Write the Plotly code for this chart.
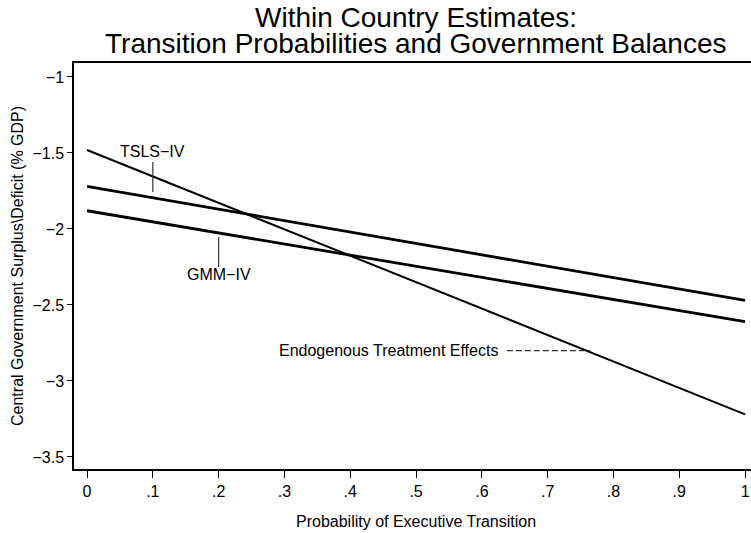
import plotly.graph_objects as go

# Data
x_prob = [0, 1]
tsls_iv = [-1.72, -2.47]
gmm_iv = [-1.88, -2.61]
endog_te = [-1.48, -3.22]

x_tickvals = [0, 0.1, 0.2, 0.3, 0.4, 0.5, 0.6, 0.7, 0.8, 0.9, 1]
x_ticktext = ["0", ".1", ".2", ".3", ".4", ".5", ".6", ".7", ".8", ".9", "1"]
y_tickvals = [-1, -1.5, -2, -2.5, -3, -3.5]
y_ticktext = ["\u22121", "\u22121.5", "\u22122", "\u22122.5", "\u22123", "\u22123.5"]

FONT = "Liberation Sans, Arial, Helvetica, sans-serif"

fig = go.Figure()
fig.add_trace(go.Scatter(x=x_prob, y=tsls_iv, mode="lines", name="TSLS-IV",
                         line=dict(color="black", width=2.8)))
fig.add_trace(go.Scatter(x=x_prob, y=gmm_iv, mode="lines", name="GMM-IV",
                         line=dict(color="black", width=2.8)))
fig.add_trace(go.Scatter(x=x_prob, y=endog_te, mode="lines", name="Endogenous Treatment Effects",
                         line=dict(color="black", width=2.0)))

# pointer lines
fig.add_shape(type="line", x0=0.1, x1=0.1, y0=-1.56, y1=-1.757, xref="x", yref="y",
              line=dict(color="#333333", width=1.2))
fig.add_shape(type="line", x0=0.2, x1=0.2, y0=-2.053, y1=-2.25, xref="x", yref="y",
              line=dict(color="#333333", width=1.2))
fig.add_shape(type="line", x0=0.638, x1=0.764, y0=-2.80, y1=-2.80, xref="x", yref="y",
              line=dict(color="#333333", width=1.2, dash="6px,3px"))

fig.add_annotation(x=0.1, y=-1.493, text="TSLS\u2212IV", showarrow=False,
                   xanchor="center", yanchor="middle", font=dict(size=16, color="black", family=FONT))
fig.add_annotation(x=0.2, y=-2.30, text="GMM\u2212IV", showarrow=False,
                   xanchor="center", yanchor="middle", font=dict(size=16, color="black", family=FONT))
fig.add_annotation(x=0.628, y=-2.80, text="Endogenous Treatment Effects", showarrow=False,
                   xanchor="right", yanchor="middle", font=dict(size=16, color="black", family=FONT))

# titles as annotations (centered over the plot region)
fig.add_annotation(xref="x", yref="paper", x=0.5, y=1.113, text="Within Country Estimates:",
                   showarrow=False, xanchor="center", yanchor="middle",
                   font=dict(size=28, color="black", family=FONT))
fig.add_annotation(xref="x", yref="paper", x=0.5, y=1.047,
                   text="Transition Probabilities and Government Balances",
                   showarrow=False, xanchor="center", yanchor="middle",
                   font=dict(size=28, color="black", family=FONT))
fig.add_annotation(xref="x", yref="paper", x=0.5, y=-0.1305, text="Probability of Executive Transition",
                   showarrow=False, xanchor="center", yanchor="middle",
                   font=dict(size=16, color="black", family=FONT))
fig.add_annotation(xref="paper", yref="paper", x=-0.0842, y=0.5,
                   text="Central Government Surplus\\Deficit (% GDP)", textangle=-90,
                   showarrow=False, xanchor="center", yanchor="middle",
                   font=dict(size=16, color="black", family=FONT))

fig.update_layout(
    width=751, height=533,
    margin=dict(l=74, r=0, t=63, b=64),
    paper_bgcolor="white", plot_bgcolor="white",
    showlegend=False,
    font=dict(family=FONT, color="black"),
)
fig.update_xaxes(range=[-0.0198, 1.009], tickvals=x_tickvals, ticktext=x_ticktext,
                 showgrid=False, zeroline=False, showline=True, linecolor="black", linewidth=1.5,
                 mirror=True, ticks="outside", ticklen=7, tickcolor="black", tickwidth=1.2,
                 tickfont=dict(size=16))
fig.update_yaxes(range=[-3.579, -0.908], tickvals=y_tickvals, ticktext=y_ticktext,
                 showgrid=False, zeroline=False, showline=True, linecolor="black", linewidth=1.5,
                 ticks="outside", ticklen=5, tickcolor="black", tickwidth=1.2,
                 tickfont=dict(size=16))

fig.write_html("out.html", config={"displayModeBar": False},
               post_script="document.body.style.margin='0';")
